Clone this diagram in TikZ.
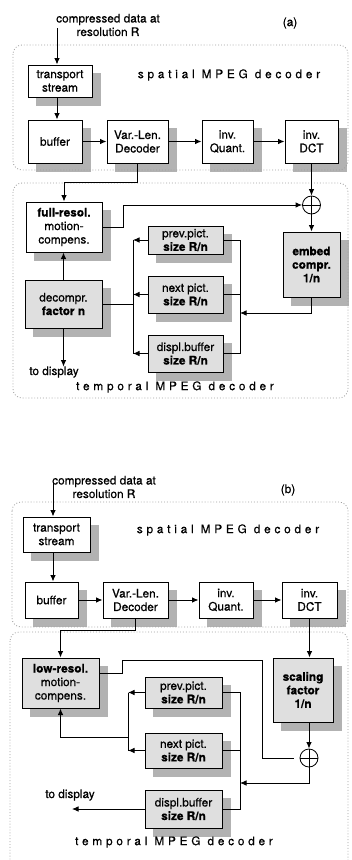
\documentclass[tikz,border=0pt]{standalone}
\usepackage{fontspec}
\setmainfont{TeX Gyre Heros}[FakeBold=0.6,BoldFeatures={FakeBold=0.6}]
\newfontfamily\spacedfont[LetterSpace=32,FakeBold=0.4]{TeX Gyre Heros}
\usetikzlibrary{arrows.meta,backgrounds}

\begin{document}
\begin{tikzpicture}[x=1pt,y=-1pt,>={Latex[length=6.5pt,width=5.5pt]},
  font=\fontsize{11.8}{13.5}\selectfont,
  blk/.style={draw,line width=1pt,fill=white,align=center,inner sep=1pt},
  shd/.style={blk,fill=gray!25},
  frame/.style={draw=gray!75,dotted,line width=0.8pt,rounded corners=9pt},
  sp/.style={font=\spacedfont\fontsize{11.8}{13.5}\selectfont},
  sumnode/.style={draw,circle,minimum size=18pt,inner sep=0pt,line width=0.8pt,
    fill=white,path picture={\draw (path picture bounding box.north) -- (path picture bounding box.south)
      (path picture bounding box.west) -- (path picture bounding box.east);}},
  every path/.style={line width=0.9pt}]
  \useasboundingbox (0,0) rectangle (351,860);

  % (a) full resolution
  \draw[frame] (13,45) rectangle (348,170);
  \draw[frame] (13,183) rectangle (348,398);
  \coordinate (ina) at (57,28);
  \node[align=center] (cda) at (108,25) {compressed data at\\resolution R};
  \node (laba) at (290,23) {(a)};
  \node[sp] (spa) at (229,75) {spatial MPEG decoder};
  \node[sp] (tpa) at (175,387) {temporal MPEG decoder};

  \node[blk,minimum width=64pt,minimum height=32pt] (tsa) at (60,81) {transport\\stream};
  \node[blk,minimum width=54pt,minimum height=43pt] (bufa) at (55,141.5) {buffer};
  \node[blk,minimum width=61pt,minimum height=43pt] (vlda) at (137.5,141.5) {Var.-Len.\\Decoder};
  \node[blk,minimum width=51pt,minimum height=43pt] (iqa) at (227.5,141.5) {inv.\\Quant.};
  \node[blk,minimum width=53pt,minimum height=43pt] (dcta) at (311.5,141.5) {inv.\\DCT};
  \node[sumnode] (suma) at (311.5,205) {};
  \node[blk,minimum width=76pt,minimum height=50pt] (fra) at (64,227) {\bfseries full-resol.\\motion-\\compens.};
  \node[shd,minimum width=77pt,minimum height=48pt] (deca) at (63.5,304) {decompr.\\\bfseries factor n};
  \node[shd,minimum width=75pt,minimum height=28pt] (ppa) at (185.5,240) {prev.pict.\\\bfseries size R/n};
  \node[shd,minimum width=75pt,minimum height=37pt] (npa) at (185.5,294.5) {next pict.\\\bfseries size R/n};
  \node[shd,minimum width=75pt,minimum height=37pt] (dba) at (185.5,353.5) {displ.buffer\\\bfseries size R/n};
  \node[shd,minimum width=57pt,minimum height=65pt,font=\bfseries\fontsize{11.8}{13.5}\selectfont] (emba) at (311.5,264.5) {embed\\compr.\\1/n};
  \node (tda) at (54,372) {to display};

  \draw[->] (ina) -- (ina |- tsa.north);
  \draw[->] (tsa.south -| ina) -- (bufa.north -| ina);
  \draw[->] (bufa.east) -- (vlda.west);
  \draw[->] (vlda.east) -- (iqa.west);
  \draw[->] (iqa.east) -- (dcta.west);
  \draw[->] (vlda.south) -- ++(0,19) -| (fra.north);
  \draw[->] (dcta.south) -- (suma.north);
  \draw[->] (fra.east) -- ++(21,0) |- (suma.west);
  \draw[->] (suma.south) -- (emba.north);
  \coordinate (rba) at (240,313);
  \draw[->] (emba.south) |- (rba);
  \draw (ppa.east) -| (dba.east -| rba) -- (dba.east);
  \draw (npa.east) -- (npa.east -| rba);
  \coordinate (lba) at (133,302);
  \draw[->] (ppa.west) -- (ppa.west -| lba);
  \draw[->] (npa.west) -- (npa.west -| lba);
  \draw[->] (dba.west) -- (dba.west -| lba);
  \draw (ppa.west -| lba) -- (dba.west -| lba);
  \draw (deca.east) -- (deca.east -| lba);
  \draw[->] (deca.north) -- (deca.north |- fra.south);
  \draw[->] (deca.south) -- ([yshift=-4pt]deca.south |- tda.north);

  % (b) low resolution
  \draw[frame] (12,502) rectangle (348,627);
  \draw[frame] (10,632) rectangle (348,880);
  \coordinate (inb) at (53,483);
  \node[align=center] (cdb) at (104,487) {compressed data at\\resolution R};
  \node (labb) at (288,490) {(b)};
  \node[sp] (spb) at (228,530) {spatial MPEG decoder};
  \node[sp] (tpb) at (174,842) {temporal MPEG decoder};

  \node[blk,minimum width=67pt,minimum height=35pt] (tsb) at (56.5,534.5) {transport\\stream};
  \node[blk,minimum width=53pt,minimum height=36pt] (bufb) at (51.5,600) {buffer};
  \node[blk,minimum width=65pt,minimum height=36pt] (vldb) at (135.5,600) {Var.-Len.\\Decoder};
  \node[blk,minimum width=54pt,minimum height=36pt] (iqb) at (226,600) {inv.\\Quant.};
  \node[blk,minimum width=55pt,minimum height=36pt] (dctb) at (309.5,600) {inv.\\DCT};
  \node[shd,minimum width=77pt,minimum height=50pt] (lowb) at (60.5,683) {\bfseries low-resol.\\motion-\\compens.};
  \node[shd,minimum width=60pt,minimum height=64pt,font=\bfseries\fontsize{11.8}{13.5}\selectfont] (scb) at (303,690) {scaling\\factor\\1/n};
  \node[sumnode] (sumb) at (309,758) {};
  \node[shd,minimum width=77pt,minimum height=31pt] (ppb) at (183.5,692.5) {prev.pict.\\\bfseries size R/n};
  \node[shd,minimum width=77pt,minimum height=35pt] (npb) at (183.5,750.5) {next pict.\\\bfseries size R/n};
  \node[shd,minimum width=77pt,minimum height=38pt] (dbb) at (183.5,809) {displ.buffer\\\bfseries size R/n};
  \node (tdtb) at (70,795) {to display};

  \draw[->] (inb) -- (inb |- tsb.north);
  \draw[->] (tsb.south -| inb) -- (bufb.north -| inb);
  \draw[->] (bufb.east) -- (vldb.west);
  \draw[->] (vldb.east) -- (iqb.west);
  \draw[->] (iqb.east) -- (dctb.west);
  \draw[->] (vldb.south) -- ++(0,12) -| (lowb.north);
  \draw[->] (dctb.south) -- (dctb.south |- scb.north);
  \draw[->] (scb.south -| sumb) -- (sumb.north);
  \coordinate (rbb) at (240,783);
  \draw[->] (sumb.south) |- (rbb);
  \draw (ppb.east) -| (dbb.east -| rbb) -- (dbb.east);
  \draw (npb.east) -- (npb.east -| rbb);
  \coordinate (lbb) at (128,737);
  \draw[->] (ppb.west) -- (ppb.west -| lbb);
  \draw[->] (npb.west) -- (npb.west -| lbb);
  \draw (ppb.west -| lbb) -- (npb.west -| lbb);
  \draw[->] (lbb) -| (lowb.south);
  \draw ([yshift=10pt]lowb.east) -- ++(23,0) |- (262,660) |- ([xshift=-6pt]sumb.west);
  \coordinate (tdb) at (72,810);
  \draw[->] (dbb.west) -- (dbb.west -| tdb);

  % shadows
  \begin{scope}[on background layer]
    \foreach \n in {tsa,bufa,vlda,iqa,dcta,fra,deca,ppa,npa,dba,emba,
                    tsb,bufb,vldb,iqb,dctb,lowb,scb,ppb,npb,dbb}
      \fill[gray!60] ([xshift=8pt,yshift=-8pt]\n.south west) rectangle ([xshift=8pt,yshift=-8pt]\n.north east);
  \end{scope}
\end{tikzpicture}
\end{document}
